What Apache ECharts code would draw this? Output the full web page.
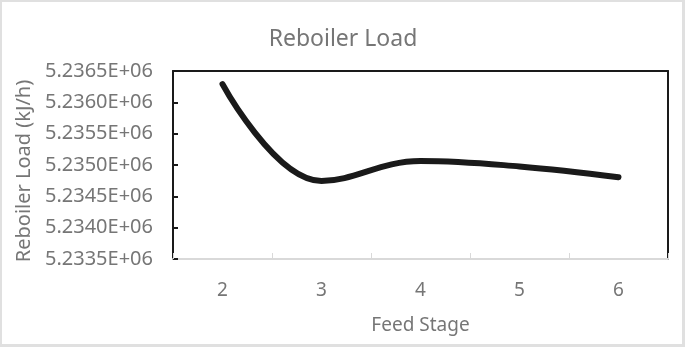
<!DOCTYPE html>
<html>
<head>
<meta charset="utf-8">
<script src="https://cdn.jsdelivr.net/npm/echarts@6/dist/echarts.min.js"></script>
<style>
html,body{margin:0;padding:0;background:#fff;}
#wrap{position:relative;width:685px;height:347px;}
#chart{position:absolute;left:0;top:0;width:685px;height:347px;}
#frame{position:absolute;left:0;top:0;width:685px;height:347px;box-sizing:border-box;border-style:solid;border-color:#e0e0e0;border-width:2px 3px 3px 2px;pointer-events:none;}
</style>
</head>
<body>
<div id="wrap"><div id="chart"></div><div id="frame"></div></div>
<script>
var categories = ['2', '3', '4', '5', '6'];
var reboilerLoad = [5236290, 5234745, 5235065, 5234977, 5234805];
var yMin = 5233500;
var yMax = 5236500;
var yStep = 500;

var textColor = '#767676';
var font = 'Noto Sans';

var chart = echarts.init(document.getElementById('chart'), null, {renderer: 'canvas'});
chart.setOption({
  animation: false,
  backgroundColor: '#ffffff',
  title: {
    text: 'Reboiler Load',
    left: 338,
    top: 23,
    textAlign: 'center',
    textStyle: {color: textColor, fontFamily: font, fontSize: 23, fontWeight: 'normal'}
  },
  grid: {left: 173, top: 71, right: 17, bottom: 88, containLabel: false},
  xAxis: [{
    type: 'category',
    data: categories,
    boundaryGap: true,
    name: 'Feed Stage',
    nameLocation: 'middle',
    nameGap: 57,
    nameTextStyle: {color: textColor, fontFamily: font, fontSize: 19},
    axisLine: {show: true, lineStyle: {color: '#d9d9d9', width: 2}},
    axisTick: {show: true, inside: true, length: 6, alignWithLabel: false, lineStyle: {color: '#d9d9d9', width: 1}},
    axisLabel: {color: textColor, fontFamily: font, fontSize: 19, margin: 22},
    splitLine: {show: false}
  }, {
    type: 'category',
    data: categories,
    position: 'top',
    axisLine: {show: true, lineStyle: {color: '#1a1a1a', width: 2}},
    axisTick: {show: false},
    axisLabel: {show: false},
    splitLine: {show: false}
  }],
  yAxis: [{
    type: 'value',
    min: yMin,
    max: yMax,
    interval: yStep,
    name: 'Reboiler Load (kJ/h)',
    nameLocation: 'middle',
    nameRotate: 90,
    nameGap: 135,
    nameTextStyle: {color: textColor, fontFamily: font, fontSize: 20, padding: [0, 12, 0, 0]},
    axisLine: {show: true, lineStyle: {color: '#1a1a1a', width: 2}},
    axisTick: {show: true, inside: true, length: 5, lineStyle: {color: '#1a1a1a', width: 2}},
    axisLabel: {
      color: textColor, fontFamily: font, fontSize: 20, margin: 20,
      formatter: function (v) { return (v / 1e6).toFixed(4) + 'E+06'; }
    },
    splitLine: {show: false}
  }, {
    type: 'value',
    min: yMin,
    max: yMax,
    interval: yStep,
    position: 'right',
    axisLine: {show: true, lineStyle: {color: '#1a1a1a', width: 2}},
    axisTick: {show: false},
    axisLabel: {show: false},
    splitLine: {show: false}
  }],
  series: [{
    type: 'line',
    data: reboilerLoad,
    smooth: 0.4,
    showSymbol: false,
    symbol: 'none',
    lineStyle: {color: '#1a1a1a', width: 6, cap: 'round', join: 'round'}
  }]
});
</script>
</body>
</html>
